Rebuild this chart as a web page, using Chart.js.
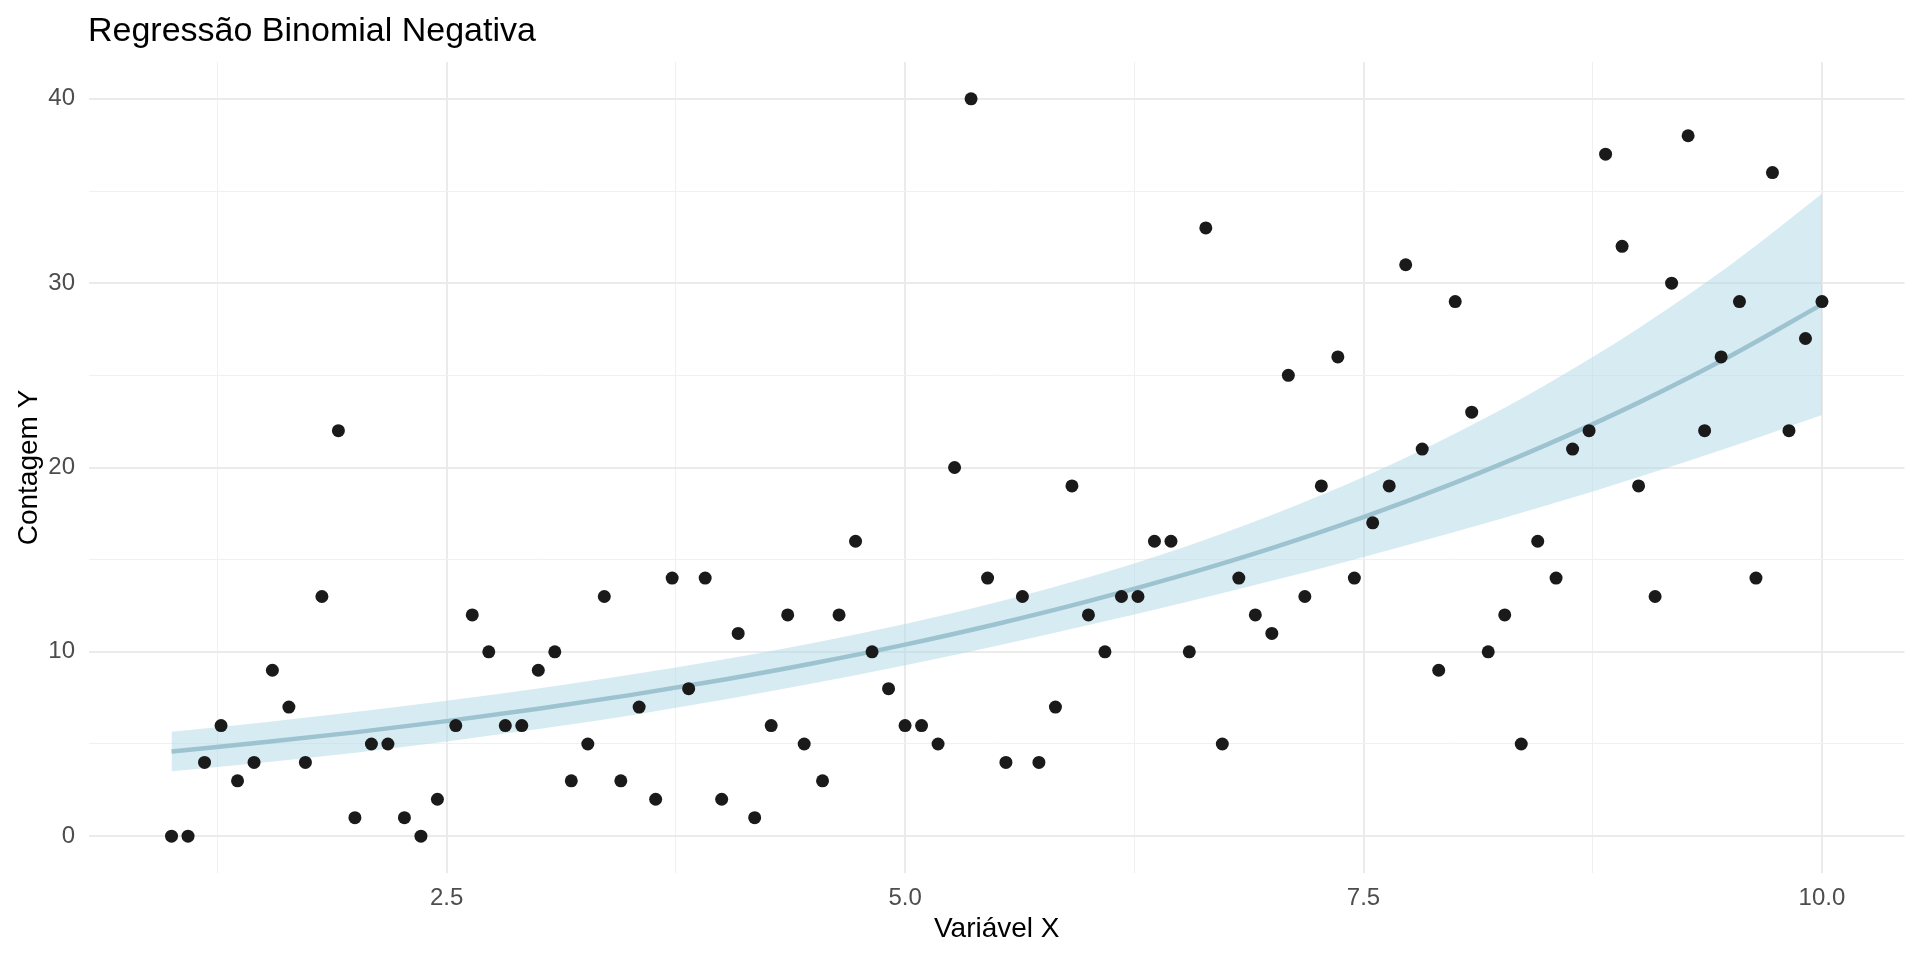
<!DOCTYPE html>
<html>
<head>
<meta charset="utf-8">
<script src="https://cdn.jsdelivr.net/npm/chart.js@4.4.1/dist/chart.umd.min.js"></script>
<style>
  html, body { margin: 0; padding: 0; background: #ffffff; }
  #wrap { width: 1920px; height: 960px; position: relative; }
</style>
</head>
<body>
<div id="wrap"><canvas id="c" width="1920" height="960"></canvas></div>
<script>
// ---- Data ----
const chartTitle = 'Regressão Binomial Negativa';
const xTitle = 'Variável X';
const yTitle = 'Contagem Y';

const pointX = [
  1.00,1.09,1.18,1.27,1.36,1.45,1.55,1.64,1.73,1.82,1.91,
  2.00,2.09,2.18,2.27,2.36,2.45,2.55,2.64,2.73,2.82,2.91,
  3.00,3.09,3.18,3.27,3.36,3.45,3.55,3.64,3.73,3.82,3.91,
  4.00,4.09,4.18,4.27,4.36,4.45,4.55,4.64,4.73,4.82,4.91,
  5.00,5.09,5.18,5.27,5.36,5.45,5.55,5.64,5.73,5.82,5.91,
  6.00,6.09,6.18,6.27,6.36,6.45,6.55,6.64,6.73,6.82,6.91,
  7.00,7.09,7.18,7.27,7.36,7.45,7.55,7.64,7.73,7.82,7.91,
  8.00,8.09,8.18,8.27,8.36,8.45,8.55,8.64,8.73,8.82,8.91,
  9.00,9.09,9.18,9.27,9.36,9.45,9.55,9.64,9.73,9.82,9.91,
  10.00
];
const pointY = [
  0,0,4,6,3,4,9,7,4,13,
  22,1,5,5,1,0,2,6,12,10,
  6,6,9,10,3,5,13,3,7,2,
  14,8,14,2,11,1,6,12,5,3,
  12,16,10,8,6,6,5,20,40,14,
  4,13,4,7,19,12,10,13,13,16,
  16,10,33,5,14,12,11,25,13,19,
  26,14,17,19,31,21,9,29,23,10,
  12,5,16,14,21,22,37,32,19,13,
  30,38,22,26,29,14,36,22,27,29
];

const fitX     = [1, 1.5, 2, 2.5, 3, 3.5, 4, 4.5, 5, 5.5, 6, 6.5, 7, 7.5, 8, 8.5, 9, 9.5, 10];
const fitY     = [4.59, 5.09, 5.63, 6.24, 6.91, 7.65, 8.47, 9.38, 10.39, 11.51, 12.75, 14.12, 15.63, 17.31, 19.18, 21.24, 23.52, 26.05, 28.85];
const fitLower = [3.52, 4.00, 4.53, 5.14, 5.81, 6.55, 7.38, 8.29, 9.27, 10.33, 11.45, 12.62, 13.85, 15.15, 16.51, 17.95, 19.49, 21.11, 22.85];
const fitUpper = [5.66, 6.17, 6.73, 7.34, 8.01, 8.75, 9.57, 10.48, 11.51, 12.69, 14.05, 15.61, 17.42, 19.48, 21.84, 24.52, 27.55, 30.98, 34.85];

const xGridTicks = [1.25, 2.5, 3.75, 5, 6.25, 7.5, 8.75, 10];
const xMajorTicks = [2.5, 5, 7.5, 10];
const yGridTicks = [0, 5, 10, 15, 20, 25, 30, 35, 40];
const yMajorTicks = [0, 10, 20, 30, 40];

// ---- Build datasets ----
const toXY = (xs, ys) => xs.map((x, i) => ({ x: x, y: ys[i] }));

const FONT = "'Liberation Sans', Arial, sans-serif";

const titlePlugin = {
  id: 'ggTitle',
  afterDraw(chart) {
    const ctx = chart.ctx;
    ctx.save();
    ctx.font = '34px ' + FONT;
    ctx.fillStyle = '#000000';
    ctx.textAlign = 'left';
    ctx.textBaseline = 'alphabetic';
    ctx.fillText(chartTitle, chart.chartArea.left - 1, 41);
    ctx.restore();
  }
};

const isMajor = (arr, v) => arr.some(m => Math.abs(m - v) < 1e-9);

new Chart(document.getElementById('c'), {
  type: 'scatter',
  data: {
    datasets: [
      {
        label: 'pontos',
        data: toXY(pointX, pointY),
        pointRadius: 6.5,
        pointBackgroundColor: '#1a1a1a',
        pointBorderWidth: 0,
        showLine: false,
        order: 0
      },
      {
        label: 'ajuste',
        data: toXY(fitX, fitY),
        showLine: true,
        borderColor: '#9dc3d0',
        borderWidth: 4.5,
        pointRadius: 0,
        cubicInterpolationMode: 'monotone',
        fill: false,
        order: 1
      },
      {
        label: 'inferior',
        data: toXY(fitX, fitLower),
        showLine: true,
        borderWidth: 0,
        borderColor: 'rgba(0,0,0,0)',
        pointRadius: 0,
        cubicInterpolationMode: 'monotone',
        fill: false,
        order: 3
      },
      {
        label: 'superior',
        data: toXY(fitX, fitUpper),
        showLine: true,
        borderWidth: 0,
        borderColor: 'rgba(0,0,0,0)',
        backgroundColor: 'rgba(173,216,230,0.5)',
        pointRadius: 0,
        cubicInterpolationMode: 'monotone',
        fill: '-1',
        order: 2
      }
    ]
  },
  options: {
    responsive: false,
    animation: false,
    devicePixelRatio: 1,
    layout: { padding: { left: 0, right: 15.5, top: 62, bottom: 0 } },
    plugins: {
      legend: { display: false },
      tooltip: { enabled: false },
      title: { display: false }
    },
    scales: {
      x: {
        type: 'linear',
        min: 0.55,
        max: 10.45,
        afterBuildTicks: (scale) => { scale.ticks = xGridTicks.map(v => ({ value: v })); },
        afterFit: (scale) => { scale.height = 87; },
        border: { display: false },
        grid: {
          drawTicks: false,
          color: (c) => isMajor(xMajorTicks, c.tick.value) ? '#ebebeb' : '#f0f0f0',
          lineWidth: (c) => isMajor(xMajorTicks, c.tick.value) ? 2 : 1
        },
        ticks: {
          autoSkip: false,
          maxRotation: 0,
          padding: 11,
          color: '#4d4d4d',
          font: { family: FONT, size: 24 },
          callback: (v) => isMajor(xMajorTicks, v) ? Number(v).toFixed(1) : ''
        },
        title: {
          display: true,
          text: xTitle,
          color: '#000000',
          font: { family: FONT, size: 28 },
          padding: { top: 0, bottom: 14 }
        }
      },
      y: {
        type: 'linear',
        min: -2,
        max: 42,
        afterBuildTicks: (scale) => { scale.ticks = yGridTicks.map(v => ({ value: v })); },
        afterFit: (scale) => { scale.width = 89; },
        border: { display: false },
        grid: {
          drawTicks: false,
          color: (c) => isMajor(yMajorTicks, c.tick.value) ? '#ebebeb' : '#f0f0f0',
          lineWidth: (c) => isMajor(yMajorTicks, c.tick.value) ? 2 : 1
        },
        ticks: {
          autoSkip: false,
          padding: 14,
          color: '#4d4d4d',
          font: { family: FONT, size: 24 },
          callback: (v) => isMajor(yMajorTicks, v) ? String(v) : ''
        },
        title: {
          display: true,
          text: yTitle,
          color: '#000000',
          font: { family: FONT, size: 28 },
          padding: { top: 12, bottom: 0 }
        }
      }
    }
  },
  plugins: [titlePlugin]
});
</script>
</body>
</html>
